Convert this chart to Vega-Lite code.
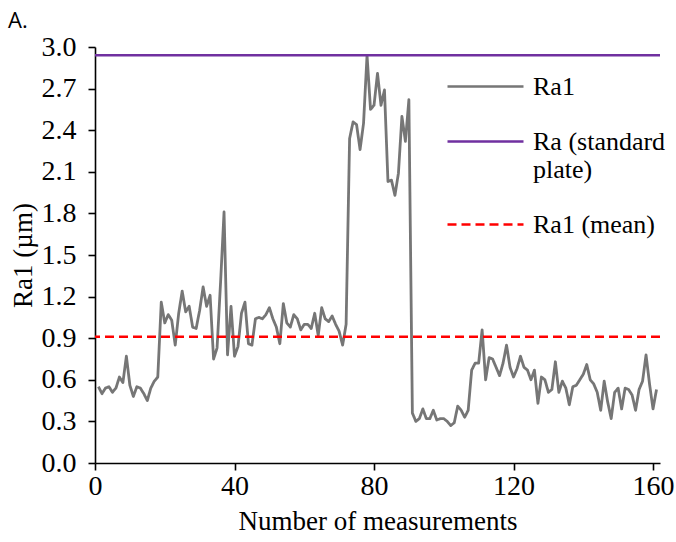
{
  "$schema": "https://vega.github.io/schema/vega-lite/v6.json",
  "width": 565,
  "height": 416,
  "autosize": {"type": "none"},
  "padding": {"left": 95, "top": 47, "right": 16, "bottom": 79},
  "background": "white",
  "title": {"text": "A.", "anchor": "start", "frame": "group", "font": "Open Sans", "fontSize": 22, "fontWeight": "normal", "color": "#000000", "dx": -87, "offset": 0},
  "config": {
    "view": {"stroke": null},
    "axis": {
      "grid": false,
      "domainColor": "#000000", "domainWidth": 1.6,
      "tickColor": "#000000", "tickWidth": 1.6, "tickSize": 7,
      "labelFont": "Liberation Serif", "labelFontSize": 28, "labelColor": "#000000",
      "titleFont": "Liberation Serif", "titleFontSize": 27, "titleFontWeight": "normal", "titleColor": "#000000"
    }
  },
  "datasets": {
    "ra1": [
      {"n":1,"ra1":0.55},{"n":2,"ra1":0.50},{"n":3,"ra1":0.54},{"n":4,"ra1":0.55},{"n":5,"ra1":0.51},
      {"n":6,"ra1":0.54},{"n":7,"ra1":0.62},{"n":8,"ra1":0.58},{"n":9,"ra1":0.77},{"n":10,"ra1":0.56},
      {"n":11,"ra1":0.48},{"n":12,"ra1":0.55},{"n":13,"ra1":0.54},{"n":14,"ra1":0.50},{"n":15,"ra1":0.45},
      {"n":16,"ra1":0.54},{"n":17,"ra1":0.59},{"n":18,"ra1":0.62},{"n":19,"ra1":1.16},{"n":20,"ra1":1.01},
      {"n":21,"ra1":1.07},{"n":22,"ra1":1.03},{"n":23,"ra1":0.85},{"n":24,"ra1":1.08},{"n":25,"ra1":1.24},
      {"n":26,"ra1":1.09},{"n":27,"ra1":1.13},{"n":28,"ra1":0.98},{"n":29,"ra1":0.97},{"n":30,"ra1":1.10},
      {"n":31,"ra1":1.27},{"n":32,"ra1":1.13},{"n":33,"ra1":1.21},{"n":34,"ra1":0.75},{"n":35,"ra1":0.83},
      {"n":36,"ra1":1.30},{"n":37,"ra1":1.81},{"n":38,"ra1":0.78},{"n":39,"ra1":1.13},{"n":40,"ra1":0.77},
      {"n":41,"ra1":0.84},{"n":42,"ra1":1.08},{"n":43,"ra1":1.16},{"n":44,"ra1":0.86},{"n":45,"ra1":0.85},
      {"n":46,"ra1":1.04},{"n":47,"ra1":1.05},{"n":48,"ra1":1.04},{"n":49,"ra1":1.07},{"n":50,"ra1":1.12},
      {"n":51,"ra1":1.04},{"n":52,"ra1":0.98},{"n":53,"ra1":0.86},{"n":54,"ra1":1.15},{"n":55,"ra1":1.01},
      {"n":56,"ra1":0.98},{"n":57,"ra1":1.07},{"n":58,"ra1":1.04},{"n":59,"ra1":0.96},{"n":60,"ra1":1.00},
      {"n":61,"ra1":1.00},{"n":62,"ra1":0.97},{"n":63,"ra1":1.08},{"n":64,"ra1":0.92},{"n":65,"ra1":1.12},
      {"n":66,"ra1":1.04},{"n":67,"ra1":1.02},{"n":68,"ra1":1.06},{"n":69,"ra1":1.00},{"n":70,"ra1":0.95},
      {"n":71,"ra1":0.85},{"n":72,"ra1":1.00},{"n":73,"ra1":2.34},{"n":74,"ra1":2.46},{"n":75,"ra1":2.44},
      {"n":76,"ra1":2.26},{"n":77,"ra1":2.45},{"n":78,"ra1":2.94},{"n":79,"ra1":2.55},{"n":80,"ra1":2.58},
      {"n":81,"ra1":2.81},{"n":82,"ra1":2.58},{"n":83,"ra1":2.69},{"n":84,"ra1":2.03},{"n":85,"ra1":2.04},
      {"n":86,"ra1":1.93},{"n":87,"ra1":2.09},{"n":88,"ra1":2.50},{"n":89,"ra1":2.32},{"n":90,"ra1":2.62},
      {"n":91,"ra1":0.36},{"n":92,"ra1":0.30},{"n":93,"ra1":0.32},{"n":94,"ra1":0.39},{"n":95,"ra1":0.32},
      {"n":96,"ra1":0.32},{"n":97,"ra1":0.38},{"n":98,"ra1":0.31},{"n":99,"ra1":0.32},{"n":100,"ra1":0.32},
      {"n":101,"ra1":0.30},{"n":102,"ra1":0.27},{"n":103,"ra1":0.29},{"n":104,"ra1":0.41},{"n":105,"ra1":0.38},
      {"n":106,"ra1":0.33},{"n":107,"ra1":0.38},{"n":108,"ra1":0.67},{"n":109,"ra1":0.72},{"n":110,"ra1":0.72},
      {"n":111,"ra1":0.96},{"n":112,"ra1":0.60},{"n":113,"ra1":0.76},{"n":114,"ra1":0.75},{"n":115,"ra1":0.69},
      {"n":116,"ra1":0.63},{"n":117,"ra1":0.72},{"n":118,"ra1":0.85},{"n":119,"ra1":0.69},{"n":120,"ra1":0.62},
      {"n":121,"ra1":0.68},{"n":122,"ra1":0.77},{"n":123,"ra1":0.69},{"n":124,"ra1":0.67},{"n":125,"ra1":0.60},
      {"n":126,"ra1":0.67},{"n":127,"ra1":0.43},{"n":128,"ra1":0.62},{"n":129,"ra1":0.60},{"n":130,"ra1":0.51},
      {"n":131,"ra1":0.53},{"n":132,"ra1":0.73},{"n":133,"ra1":0.51},{"n":134,"ra1":0.59},{"n":135,"ra1":0.54},
      {"n":136,"ra1":0.42},{"n":137,"ra1":0.55},{"n":138,"ra1":0.56},{"n":139,"ra1":0.60},{"n":140,"ra1":0.64},
      {"n":141,"ra1":0.71},{"n":142,"ra1":0.60},{"n":143,"ra1":0.57},{"n":144,"ra1":0.51},{"n":145,"ra1":0.38},
      {"n":146,"ra1":0.59},{"n":147,"ra1":0.44},{"n":148,"ra1":0.32},{"n":149,"ra1":0.51},{"n":150,"ra1":0.54},
      {"n":151,"ra1":0.39},{"n":152,"ra1":0.54},{"n":153,"ra1":0.53},{"n":154,"ra1":0.49},{"n":155,"ra1":0.38},
      {"n":156,"ra1":0.53},{"n":157,"ra1":0.59},{"n":158,"ra1":0.78},{"n":159,"ra1":0.57},{"n":160,"ra1":0.39},
      {"n":161,"ra1":0.53}
    ],
    "refs": [
      {"series": "Ra (standard plate)", "v": 2.94},
      {"series": "Ra1 (mean)", "v": 0.91}
    ]
  },
  "layer": [
    {
      "data": {"name": "ra1"},
      "mark": {"type": "line", "strokeWidth": 2.8, "strokeJoin": "round"},
      "encoding": {
        "x": {
          "field": "n", "type": "quantitative",
          "scale": {"domain": [0, 162], "nice": false, "zero": false},
          "axis": {"title": "Number of measurements", "values": [0, 40, 80, 120, 160], "labelPadding": 2, "titlePadding": 8, "labelFlush": false}
        },
        "y": {
          "field": "ra1", "type": "quantitative",
          "scale": {"domain": [0, 3], "nice": false},
          "axis": {"title": "Ra1 (µm)", "values": [0, 0.3, 0.6, 0.9, 1.2, 1.5, 1.8, 2.1, 2.4, 2.7, 3.0], "format": ".1f", "labelPadding": 12, "titlePadding": 4}
        },
        "color": {
          "datum": "Ra1", "type": "nominal",
          "scale": {"domain": ["Ra1", "Ra (standard plate)", "Ra1 (mean)"], "range": ["#767676", "#7030a0", "#ff0000"]},
          "legend": {
            "title": null, "orient": "none", "legendX": 351, "legendY": 0,
            "symbolType": "stroke", "symbolSize": 5776, "symbolStrokeWidth": 2.6,
            "labelFont": "Liberation Serif", "labelFontSize": 26, "labelColor": "#000000", "labelOffset": 8, "labelLimit": 0,
            "rowPadding": 2,
            "labelExpr": "datum.label == 'Ra (standard plate)' ? ['Ra (standard', 'plate)'] : datum.label"
          }
        },
        "strokeDash": {
          "datum": "Ra1", "type": "nominal",
          "scale": {"domain": ["Ra1", "Ra (standard plate)", "Ra1 (mean)"], "range": [[1, 0], [1, 0], [9, 5]]},
          "legend": {"title": null}
        }
      }
    },
    {
      "data": {"name": "refs"},
      "mark": {"type": "rule", "strokeWidth": 2.6},
      "encoding": {
        "y": {"field": "v", "type": "quantitative"},
        "color": {"field": "series", "type": "nominal", "legend": {"title": null}},
        "strokeDash": {"field": "series", "type": "nominal", "legend": {"title": null}}
      }
    }
  ]
}
